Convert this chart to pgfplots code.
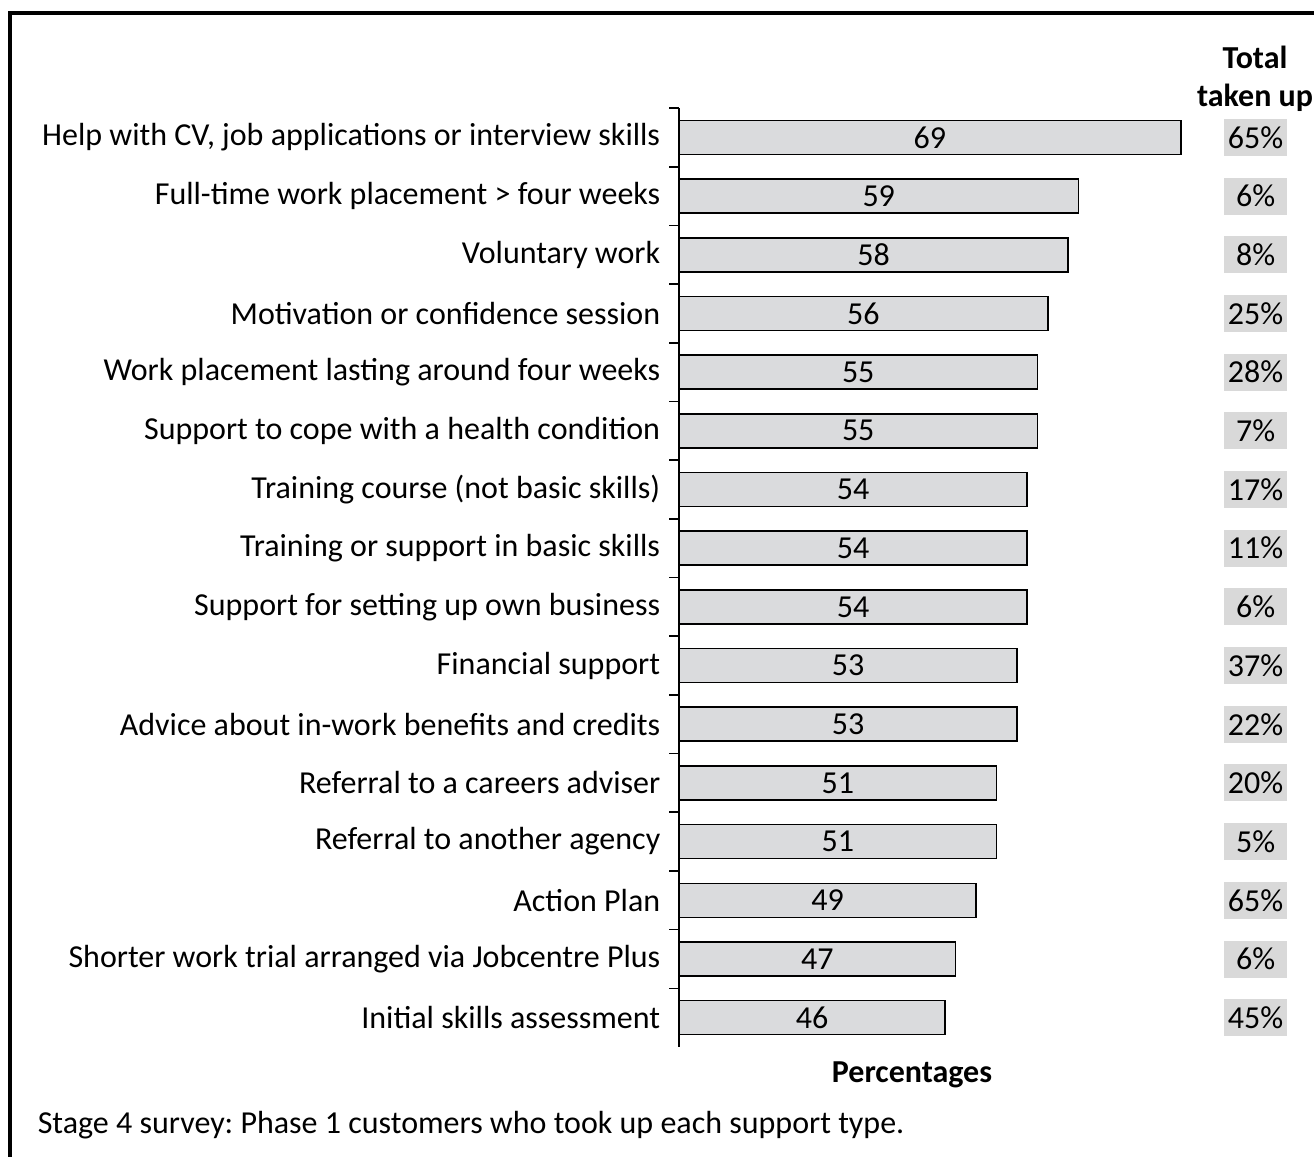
\documentclass[border=0pt]{standalone}
\usepackage{pgfplots}
\pgfplotsset{compat=1.18}
\usepackage{pgfplotstable}
\usepackage{fontspec}
\setmainfont{Carlito}
\frenchspacing

\definecolor{barfill}{HTML}{DADBDD}
\definecolor{totfill}{HTML}{D9D9D9}

% idx: row from top, v: percentage, tot: total taken up
\pgfplotstableread{
idx v  tot
0   69 65
1   59 6
2   58 8
3   56 25
4   55 28
5   55 7
6   54 17
7   54 11
8   54 6
9   53 37
10  53 22
11  51 20
12  51 5
13  49 65
14  47 6
15  46 45
}\data

\newcommand{\lbl}{\fontsize{8}{9.6}\selectfont}

\begin{document}
\begin{tikzpicture}
% 1 px of the reference = 0.25pt
\useasboundingbox (0pt,0pt) rectangle (328.5pt,-289pt);
\draw[line width=0.8pt] (2.5pt,-295pt) -- (2.5pt,-3.25pt) -- (335pt,-3.25pt);

\begin{axis}[
  at={(169.75pt,-261.75pt)}, anchor=south west,
  scale only axis, width=158.75pt, height=234.75pt,
  xmin=20, xmax=82, ymin=-0.5, ymax=15.5, y dir=reverse,
  axis x line=none, axis y line*=left,
  xtick=\empty,
  ytick={0,...,15},
  yticklabels={
    {Help with CV, job applications or interview skills},
    {Full-time work placement > four weeks},
    {Voluntary work},
    {Motivation or confidence session},
    {Work placement lasting around four weeks},
    {Support to cope with a health condition},
    {Training course (not basic skills)},
    {Training or support in basic skills},
    {Support for setting up own business},
    {Financial support},
    {Advice about in-work benefits and credits},
    {Referral to a careers adviser},
    {Referral to another agency},
    {Action Plan},
    {Shorter work trial arranged via Jobcentre Plus},
    {Initial skills assessment}},
  minor ytick={-0.5,0.5,...,14.5},
  major tick length=0pt, minor tick length=2.5pt, tick align=outside,
  y axis line style={black, line width=0.4pt},
  minor tick style={black, line width=0.4pt},
  yticklabel style={font=\lbl, anchor=east, inner sep=0pt, xshift=-4.5pt},
  /pgf/number format/assume math mode=true,
]
\addplot[xbar, bar width=8.5pt, fill=barfill, draw=black, line width=0.4pt]
  table[x=v, y=idx] {\data};
\addplot[draw=none, nodes near coords, point meta=explicit,
  every node near coord/.style={font=\lbl, anchor=center, inner sep=0pt}]
  table[x expr={(\thisrow{v}+20)/2}, y=idx, meta=v] {\data};
\addplot[draw=none, nodes near coords={\pgfmathprintnumber{\pgfplotspointmeta}\%},
  point meta=explicit,
  every node near coord/.style={font=\lbl, anchor=center, fill=totfill,
    minimum width=15.75pt, minimum height=9.25pt, inner sep=0pt}]
  table[x expr=76.3, y=idx, meta=tot] {\data};
\end{axis}

\node[font=\lbl\bfseries, align=center, anchor=north] at (313.75pt,-8pt) {Total\\taken up};
\node[font=\lbl\bfseries] at (228pt,-268.75pt) {Percentages};
\node[font=\lbl, anchor=west, inner sep=0pt] at (9.25pt,-281.25pt) {Stage 4 survey: Phase 1 customers who took up each support type.};
\end{tikzpicture}
\end{document}
